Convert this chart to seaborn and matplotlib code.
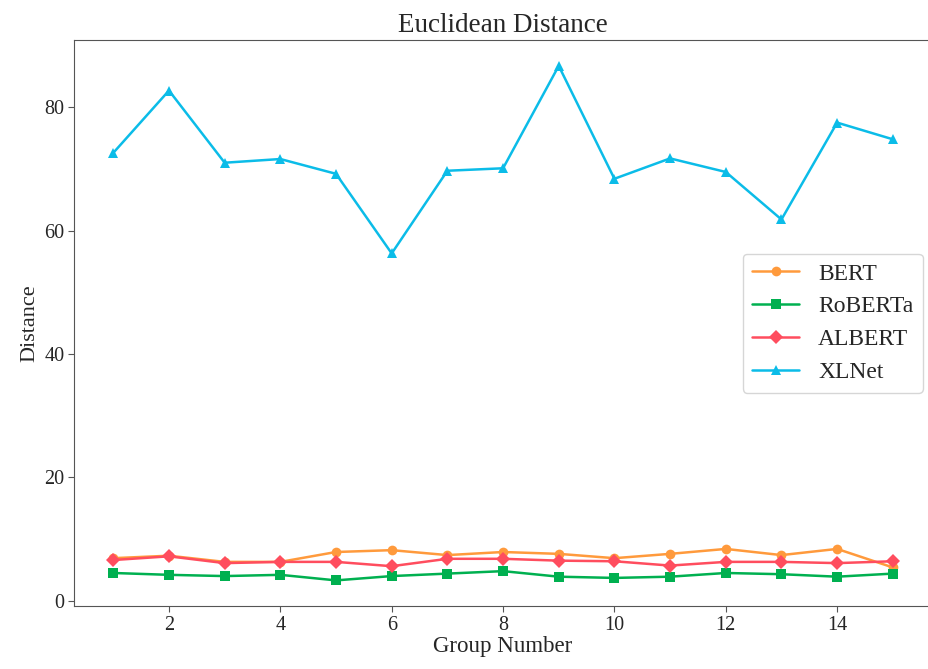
import pandas as pd
import seaborn as sns
import matplotlib.pyplot as plt

groups = list(range(1, 16))
bert = [6.9, 7.3, 6.3, 6.3, 7.9, 8.2, 7.4, 7.9, 7.6, 6.9, 7.6, 8.4, 7.4, 8.4, 5.4]
roberta = [4.5, 4.2, 4.0, 4.2, 3.3, 4.0, 4.4, 4.8, 3.9, 3.7, 3.9, 4.5, 4.3, 3.9, 4.4]
albert = [6.6, 7.2, 6.1, 6.3, 6.3, 5.6, 6.8, 6.8, 6.5, 6.4, 5.7, 6.3, 6.3, 6.1, 6.4]
xlnet = [72.6, 82.7, 71.0, 71.6, 69.2, 56.3, 69.7, 70.1, 86.7, 68.4, 71.7, 69.5, 61.8, 77.5, 74.8]

models = ["BERT", "RoBERTa", "ALBERT", "XLNet"]
colors = {"BERT": "#FF9A3C", "RoBERTa": "#00B050", "ALBERT": "#FF4D5E", "XLNet": "#0BBCE8"}
marks = {"BERT": "o", "RoBERTa": "s", "ALBERT": "D", "XLNet": "^"}

df = pd.DataFrame({
    "Group Number": groups * 4,
    "Distance": bert + roberta + albert + xlnet,
    "model": sum([[m] * len(groups) for m in models], []),
})

sns.set_style("ticks")
plt.rcParams["font.family"] = ["Liberation Serif", "DejaVu Serif"]

fig = plt.figure(figsize=(9.29, 6.69), dpi=100)
ax = fig.add_axes([0.080, 0.094, 0.923, 0.846])

sns.lineplot(data=df, x="Group Number", y="Distance", hue="model", style="model",
             hue_order=models, style_order=models, palette=colors, markers=marks,
             dashes=False, linewidth=1.8, markersize=7, markeredgewidth=0, ax=ax)

ax.set_xticks([2, 4, 6, 8, 10, 12, 14])
ax.set_yticks([0, 20, 40, 60, 80])
ax.tick_params(labelsize=14.5, color="#555555", length=4, pad=3)
ax.set_xlabel("Group Number", fontsize=16.5, labelpad=1)
ax.set_ylabel("Distance", fontsize=16, labelpad=4)
ax.set_title("Euclidean Distance", fontsize=19.5, pad=6)
for s in ax.spines.values():
    s.set_color("#555555")

# legend box sits just inside the right edge, vertically centred
ax.legend(title=None, fontsize=17, loc="center right", bbox_to_anchor=(0.9895, 0.50),
          borderaxespad=0, frameon=True, borderpad=0.4, labelspacing=0.48,
          handlelength=2.0, handletextpad=0.8)

fig.savefig("out.png", dpi=100)
